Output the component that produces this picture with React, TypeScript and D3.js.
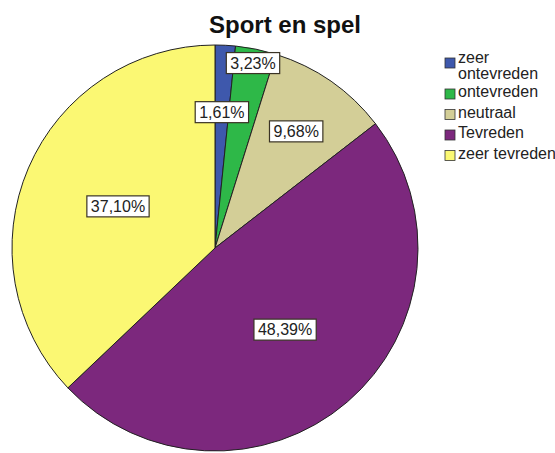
import { useEffect, useRef } from "react";
import * as d3 from "d3";

// answer categories, counts (n = 62) and the printed percentages
const categories = ["zeer ontevreden", "ontevreden", "neutraal", "Tevreden", "zeer tevreden"];
const counts = [1, 2, 6, 30, 23];
const pctLabels = ["1,61%", "3,23%", "9,68%", "48,39%", "37,10%"];
const legendLines = [["zeer", "ontevreden"], ["ontevreden"], ["neutraal"], ["Tevreden"], ["zeer tevreden"]];

const colors = ["#3e58ac", "#2eb848", "#d3ce97", "#7c287d", "#fbf873"];
// SPSS puts its labels at different depths in each slice
const labelDepth = [0.67, 0.93, 0.7, 0.53, 0.52];

export default function App() {
  const svgRef = useRef<SVGSVGElement>(null);

  useEffect(() => {
    if (!svgRef.current) return;
    const svg = d3.select(svgRef.current);
    svg.selectAll("*").remove();

    const cx = 215, cy = 248, r = 203;

    svg.append("text")
      .attr("x", 285)
      .attr("y", 33)
      .attr("text-anchor", "middle")
      .attr("font-family", "Liberation Sans, Arial, sans-serif")
      .attr("font-weight", "bold")
      .attr("font-size", 24)
      .attr("fill", "#111")
      .text("Sport en spel");

    const pie = d3.pie<number>().sort(null).value(d => d);
    const arcs = pie(counts);
    const arc = d3.arc<d3.PieArcDatum<number>>().innerRadius(0).outerRadius(r);

    const g = svg.append("g").attr("transform", `translate(${cx},${cy})`);
    g.selectAll("path")
      .data(arcs)
      .enter()
      .append("path")
      .attr("d", arc)
      .attr("fill", (_, i) => colors[i])
      .attr("stroke", "#222")
      .attr("stroke-width", 1);

    arcs.forEach((a, i) => {
      const mid = (a.startAngle + a.endAngle) / 2;
      const d = r * labelDepth[i];
      const x = Math.sin(mid) * d;
      const y = -Math.cos(mid) * d;
      const lg = g.append("g").attr("transform", `translate(${x},${y})`);
      const t = lg.append("text")
        .attr("text-anchor", "middle")
        .attr("dy", "0.35em")
        .attr("font-family", "Liberation Sans, Arial, sans-serif")
        .attr("font-size", 16)
        .attr("fill", "#222")
        .text(pctLabels[i]);
      const bb = (t.node() as SVGTextElement).getBBox();
      lg.insert("rect", "text")
        .attr("x", bb.x - 4)
        .attr("y", -10.5)
        .attr("width", bb.width + 8)
        .attr("height", 21)
        .attr("fill", "#fff")
        .attr("stroke", "#3a3325")
        .attr("stroke-width", 1.2);
    });

    // legend
    const lgd = svg.append("g").attr("transform", "translate(445,0)");
    let y = 58;
    categories.forEach((c, i) => {
      lgd.append("rect")
        .attr("x", 0)
        .attr("y", y)
        .attr("width", 10)
        .attr("height", 10)
        .attr("fill", colors[i])
        .attr("stroke", "#333")
        .attr("stroke-width", 0.8);
      const multi = legendLines[i].length > 1;
      const txt = lgd.append("text")
        .attr("x", 13)
        .attr("y", y + 8 - (multi ? 3 : 0))
        .attr("font-family", "Liberation Sans, Arial, sans-serif")
        .attr("font-size", 16)
        .attr("fill", "#222");
      legendLines[i].forEach((line, j) => {
        txt.append("tspan")
          .attr("x", 13)
          .attr("dy", j === 0 ? 0 : 15.5)
          .text(line);
      });
      y += multi ? 31 : 20.5;
    });
  }, []);

  return (
    <div style={{ position: "absolute", left: 0, top: 0, width: 555, height: 453, background: "#fff" }}>
      <svg ref={svgRef} width={555} height={453} style={{ display: "block", overflow: "hidden" }}></svg>
    </div>
  );
}
